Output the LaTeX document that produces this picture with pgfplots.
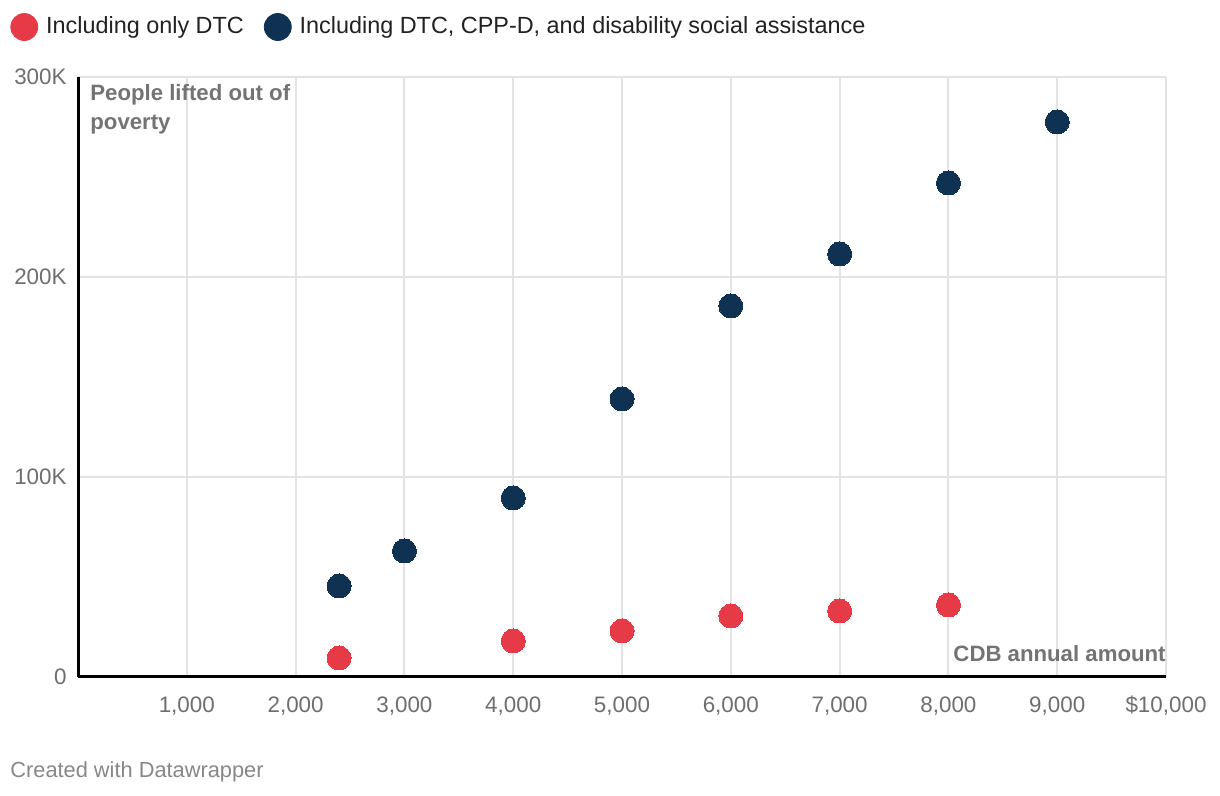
\documentclass[border=0pt]{standalone}
\usepackage{fontspec}
\setmainfont{Liberation Sans}
\usepackage{pgfplots}
\pgfplotsset{compat=1.18}
\definecolor{dwred}{HTML}{E63A46}
\definecolor{dwnavy}{HTML}{0F3253}
\definecolor{tickgray}{HTML}{6E6E6E}
\definecolor{annogray}{HTML}{737373}
\definecolor{gridgray}{HTML}{E3E3E3}
\begin{document}
\begin{tikzpicture}
\path[use as bounding box] (0,0) rectangle (610pt,398pt);
\begin{axis}[
  at={(39pt,59.5pt)}, anchor=south west,
  scale only axis, width=544pt, height=300pt,
  xmin=0, xmax=10000, ymin=0, ymax=300,
  scaled x ticks=false, scaled y ticks=false,
  axis x line=bottom, axis y line=left,
  axis line style={-, black, line width=1.5pt},
  xtick={1000,2000,3000,4000,5000,6000,7000,8000,9000,10000},
  xticklabels={{1,000},{2,000},{3,000},{4,000},{5,000},{6,000},{7,000},{8,000},{9,000},{\$10,000}},
  ytick={0,100,200,300},
  yticklabels={0,100K,200K,300K},
  major tick length=0pt,
  xmajorgrids, ymajorgrids,
  major grid style={gridgray, line width=1pt},
  ticklabel style={font=\fontsize{11.2pt}{13pt}\selectfont, text=tickgray, inner sep=0pt},
  xticklabel style={anchor=north, yshift=-9.5pt},
  yticklabel style={anchor=east, xshift=-5.5pt},
  /pgf/number format/assume math mode=true,
  clip=false,
  legend columns=2,
  legend style={at={(-0.0625,1.0833)}, anchor=west, draw=none, fill=none,
    inner sep=0pt, font=\fontsize{11.7pt}{14pt}\selectfont, text=black!87,
    /tikz/every odd column/.append style={column sep=4pt},
    /tikz/every even column/.append style={column sep=10pt},
    nodes={inner sep=0pt}},
  legend image code/.code={\fill (6.75pt,0pt) circle (6.75pt);},
]
\addplot[only marks, mark=*, mark size=6pt, color=dwred, mark options={line width=0pt}] coordinates {
  (2400,9.5) (4000,18) (5000,23) (6000,30.5) (7000,33) (8000,36)
};
\addlegendentry{Including only DTC}
\addplot[only marks, mark=*, mark size=6pt, color=dwnavy, mark options={line width=0pt}] coordinates {
  (2400,45.5) (3000,63) (4000,89.5) (5000,139) (6000,185.5) (7000,211.5) (8000,247) (9000,277.5)
};
\addlegendentry{Including DTC, CPP-D, and disability social assistance}
\node[anchor=north west, align=left, inner sep=0pt, text=annogray,
  font=\bfseries\fontsize{11.1pt}{14.5pt}\selectfont] at (rel axis cs:0.011,0.988)
  {People lifted out of\\poverty};
\node[anchor=base east, inner sep=0pt, text=annogray,
  font=\bfseries\fontsize{11.1pt}{14.5pt}\selectfont] at (rel axis cs:1,0.025)
  {CDB annual amount};
\end{axis}
\node[anchor=base west, inner sep=0pt, text=black!47, font=\fontsize{10.9pt}{13pt}\selectfont] at (5pt,9pt) {Created with Datawrapper};
\end{tikzpicture}
\end{document}
